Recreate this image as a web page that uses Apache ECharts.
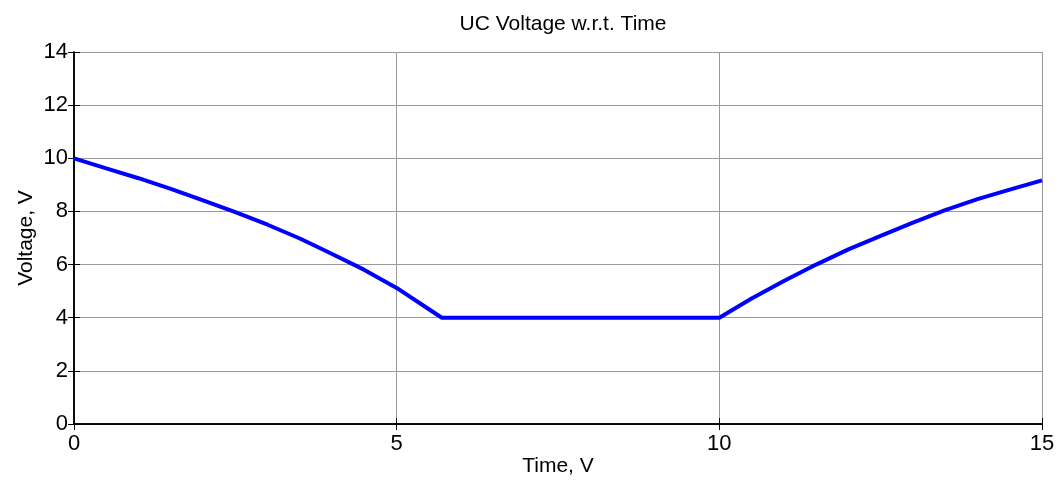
<!DOCTYPE html>
<html>
<head>
<meta charset="utf-8">
<script src="https://cdn.jsdelivr.net/npm/echarts@6/dist/echarts.min.js"></script>
<style>
  html, body { margin: 0; padding: 0; background: #fff; overflow: hidden; }
  #chart { width: 1062px; height: 483px; }
</style>
</head>
<body>
<div id="chart"></div>
<script>
// time (s) and UC voltage
var timeVals = [0, 0.5, 1, 1.5, 2, 2.5, 3, 3.5, 4, 4.5, 5, 5.5, 5.7,
  6, 7, 8, 9, 10, 10.5, 11, 11.5, 12, 12.5, 13, 13.5, 14, 14.5, 15];
var voltVals = [10, 9.62, 9.25, 8.85, 8.42, 7.97, 7.5, 6.98, 6.4, 5.8, 5.12, 4.32, 4.0,
  4.0, 4.0, 4.0, 4.0, 4.0, 4.72, 5.38, 6.0, 6.57, 7.08, 7.58, 8.05, 8.46, 8.82, 9.17];

var titleText = "UC Voltage w.r.t. Time";
var xName = "Time, V";
var yName = "Voltage, V";

var points = timeVals.map(function (t, i) { return [t, voltVals[i]]; });

var font = "Liberation Sans, Arial, sans-serif";
var gridLine = { show: true, lineStyle: { color: "#9a9a9a", width: 1 } };
var tick = { show: true, inside: true, length: 6, lineStyle: { color: "#000" } };
var line = { show: true, lineStyle: { color: "#000", width: 1.5 } };

var chart = echarts.init(document.getElementById("chart"));
chart.setOption({
  animation: false,
  title: {
    text: titleText,
    left: 558,
    textAlign: "center",
    top: 9,
    textStyle: { fontFamily: font, fontWeight: "normal", fontSize: 21, color: "#000" }
  },
  grid: { left: 74, right: 20, top: 52, height: 372 },
  xAxis: [
    {
      type: "value",
      min: 0, max: 15, interval: 5,
      name: xName,
      nameLocation: "middle",
      nameGap: 32,
      nameMoveOverlap: false,
      nameTextStyle: { fontFamily: font, fontSize: 21, color: "#000" },
      axisLine: line,
      axisTick: tick,
      splitLine: gridLine,
      axisLabel: { fontFamily: font, fontSize: 22, color: "#000", margin: 9 }
    },
    {
      type: "value", position: "top",
      min: 0, max: 15, interval: 5,
      axisLine: line, axisTick: tick,
      splitLine: { show: false }, axisLabel: { show: false }
    }
  ],
  yAxis: [
    {
      type: "value",
      min: 0, max: 14, interval: 2,
      name: yName,
      nameLocation: "middle",
      nameGap: 37,
      nameMoveOverlap: false,
      nameTextStyle: { fontFamily: font, fontSize: 21, color: "#000" },
      axisLine: line,
      axisTick: tick,
      splitLine: gridLine,
      axisLabel: { fontFamily: font, fontSize: 22, color: "#000", margin: 6 }
    },
    {
      type: "value", position: "right",
      min: 0, max: 14, interval: 2,
      axisLine: line, axisTick: tick,
      splitLine: { show: false }, axisLabel: { show: false }
    }
  ],
  series: [
    {
      type: "line",
      data: points,
      symbol: "none",
      lineStyle: { color: "#0000ff", width: 4 }
    }
  ]
});
</script>
</body>
</html>
